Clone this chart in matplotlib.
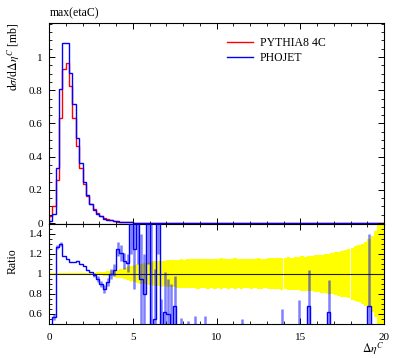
import numpy as np
import matplotlib
matplotlib.use("Agg")
import matplotlib.pyplot as plt
from matplotlib.ticker import MultipleLocator, FuncFormatter

plt.rcParams['font.family'] = ['Liberation Serif', 'DejaVu Serif']
plt.rcParams['mathtext.fontset'] = 'stix'

# ---------------- data ----------------
title = "max(etaC)"
series_names = ["PYTHIA8 4C", "PHOJET"]
bin_edges = np.linspace(0, 20, 101)   # 100 bins of width 0.2

pythia = [
    0.045, 0.100, 0.260, 0.630, 0.927, 0.967, 0.825, 0.635, 0.465, 0.330,
    0.235, 0.165, 0.115, 0.083, 0.060, 0.044, 0.031, 0.022, 0.016, 0.012,
    0.009, 0.007, 0.0055, 0.0042, 0.0033, 0.0026, 0.0020, 0.0016, 0.0012, 0.0010,
    0.0008, 0.00065, 0.0005, 0.0004, 0.00035, 0.0003, 0.00025, 0.0002, 0.00018, 0.00015,
    0.00013, 0.00012, 0.0001, 0.0001, 0.00009, 0.00008, 0.00008, 0.00007, 0.00006, 0.00006,
    0.00005, 0.00005, 0.00005, 0.00004, 0.00004, 0.00004, 0.00004, 0.00003, 0.00003, 0.00003,
    0.00003, 0.00003, 0.00003, 0.00002, 0.00002, 0.00002, 0.00002, 0.00002, 0.00002, 0.00002,
    0.00002, 0.00002, 0.00002, 0.00002, 0.00002, 0.00001, 0.00001, 0.00001, 0.00001, 0.00001,
    0.00001, 0.00001, 0.00001, 0.00001, 0.00001, 0.00001, 0.00001, 0.00001, 0.00001, 0.00001,
    0.00001, 0.00001, 0.00001, 0.00001, 0.00001, 0.00001, 0.00001, 0.00001, 0.00001, 0.00001,
]
phojet = [
    0.014, 0.057, 0.330, 0.810, 1.083, 1.083, 0.905, 0.715, 0.515, 0.360,
    0.250, 0.170, 0.115, 0.080, 0.056, 0.040, 0.027, 0.020, 0.016, 0.0125,
    0.011, 0.0085, 0.006, 0.0046, 0.005, 0.003, 0.003, 0.0015, 0.0010, 0.0017,
    0.0, 0.0004, 0.001, 0.0, 0.0002, 0.0002, 0.0, 0.00014, 0.0, 0.0,
    0.0, 0.0, 0.0, 0.0, 0.0, 0.0, 0.0, 0.0, 0.0, 0.0,
    0.0, 0.0, 0.0, 0.0, 0.0, 0.0, 0.0, 0.0, 0.0, 0.0,
    0.0, 0.0, 0.0, 0.0, 0.0, 0.0, 0.0, 0.0, 0.0, 0.0,
    0.0, 0.0, 0.0, 0.0, 0.0, 0.0, 0.0, 0.00001, 0.0, 0.0,
    0.0, 0.0, 0.0, 0.00001, 0.0, 0.0, 0.0, 0.0, 0.0, 0.0,
    0.0, 0.0, 0.0, 0.0, 0.0, 0.00001, 0.0, 0.0, 0.0, 0.0,
]

# ratio PHOJET / PYTHIA8
ratio = [
    0.31, 0.57, 1.27, 1.30, 1.18, 1.15, 1.12, 1.12, 1.13, 1.10,
    1.08, 1.04, 1.02, 0.99, 0.95, 0.90, 0.85, 0.92, 1.00, 1.04,
    1.25, 1.21, 1.13, 1.11, 1.70, 1.25, 1.60, 0.95, 0.80, 1.70,
    0.0, 0.55, 2.00, 0.0, 0.62, 0.60, 0.0, 0.68, 0.0, 0.0,
    0.0, 0.0, 0.0, 0.0, 0.0, 0.0, 0.0, 0.0, 0.0, 0.0,
    0.0, 0.0, 0.0, 0.0, 0.0, 0.0, 0.0, 0.0, 0.0, 0.0,
    0.0, 0.0, 0.0, 0.0, 0.0, 0.0, 0.0, 0.0, 0.0, 0.0,
    0.0, 0.0, 0.0, 0.0, 0.0, 0.0, 0.0, 0.68, 0.0, 0.0,
    0.0, 0.0, 0.0, 0.62, 0.0, 0.0, 0.0, 0.0, 0.0, 0.0,
    0.0, 0.0, 0.0, 0.0, 0.0, 0.68, 0.0, 0.0, 0.0, 0.0,
]
# ratio error bars: bin index, lower error, upper error
ratio_err_bins = [0, 1, 2, 3, 13, 14, 15, 16, 17, 18, 19, 20, 21, 22, 23,
                  24, 25, 26, 27, 28, 29, 30, 31, 32, 33, 34, 35, 36, 37,
                  39, 41, 43, 46, 57, 69, 74, 77, 83, 95]
ratio_err_lo = [0.02, 0.03, 0.02, 0.02, 0.02, 0.03, 0.03, 0.04, 0.04, 0.05, 0.06, 0.07, 0.08, 0.08, 0.09,
                0.5, 0.4, 0.5, 0.45, 0.4, 0.6, 0.0, 0.55, 0.8, 0.0, 0.62, 0.6, 0.0, 0.68,
                0.0, 0.0, 0.0, 0.0, 0.0, 0.0, 0.0, 0.68, 0.62, 0.68]
ratio_err_hi = [0.02, 0.03, 0.02, 0.02, 0.02, 0.03, 0.03, 0.04, 0.04, 0.05, 0.06, 0.07, 0.08, 0.08, 0.09,
                0.5, 0.4, 0.5, 0.45, 0.4, 0.6, 1.6, 0.5, 0.8, 0.75, 0.4, 0.35, 0.9, 0.3,
                0.56, 0.53, 0.58, 0.58, 0.55, 0.65, 0.74, 0.36, 0.32, 0.72]

# relative uncertainty of PYTHIA8 (yellow band half width)
band = [
    0.004, 0.004, 0.004, 0.004, 0.004, 0.004, 0.004, 0.004, 0.005, 0.005,
    0.006, 0.007, 0.008, 0.010, 0.013, 0.016, 0.020, 0.024, 0.028, 0.033,
    0.040, 0.048, 0.056, 0.066, 0.076, 0.088, 0.095, 0.100, 0.108, 0.112,
    0.118, 0.122, 0.126, 0.130, 0.128, 0.134, 0.138, 0.135, 0.140, 0.143,
    0.140, 0.145, 0.142, 0.146, 0.150, 0.144, 0.148, 0.150, 0.146, 0.150,
    0.148, 0.152, 0.146, 0.150, 0.148, 0.152, 0.145, 0.150, 0.148, 0.146,
    0.150, 0.147, 0.152, 0.150, 0.148, 0.155, 0.152, 0.158, 0.154, 0.160,
    0.158, 0.162, 0.160, 0.165, 0.168, 0.172, 0.170, 0.175, 0.178, 0.182,
    0.185, 0.190, 0.195, 0.200, 0.205, 0.212, 0.220, 0.230, 0.238, 0.248,
    0.260, 0.272, 0.285, 0.300, 0.320, 0.345, 0.380, 0.430, 0.550, 0.800,
]
main_yticks = [0, 0.2, 0.4, 0.6, 0.8, 1.0]
ratio_yticks = [0.6, 0.8, 1.0, 1.2, 1.4]
xticks = [0, 5, 10, 15, 20]

# ---------------- figure ----------------
W, H = 397, 358
fig = plt.figure(figsize=(W / 100, H / 100), dpi=100)
L, R = 49 / W, 384 / W
top_main, bot_main = 1 - 23 / H, 1 - 223.7 / H
bot_ratio = 1 - 323.5 / H
ax = fig.add_axes([L, bot_main, R - L, top_main - bot_main])
ax2 = fig.add_axes([L, bot_ratio, R - L, bot_main - bot_ratio])

red, blue = '#ff0000', '#0000ff'
ax.stairs(pythia, bin_edges, color=red, lw=1.0, label=series_names[0])
ax.stairs(phojet, bin_edges, color=blue, lw=1.0, label=series_names[1])
ax.set_xlim(0, 20)
ax.set_ylim(-0.004, 1.205)

centers = 0.5 * (bin_edges[:-1] + bin_edges[1:])
b = np.array(band)
ax2.bar(centers, 2 * b, bottom=1 - b, width=0.2, color='#ffff00', lw=0, zorder=1)
ax2.axhline(1.0, color='#222200', lw=0.8, zorder=2)
r = np.array(ratio)
idx = np.array(ratio_err_bins)
ax2.vlines(centers[idx], r[idx] - np.array(ratio_err_lo), r[idx] + np.array(ratio_err_hi),
           color=blue, alpha=0.5, lw=1.8, zorder=3)
ax2.stairs(ratio, bin_edges, color=blue, lw=1.0, zorder=4, baseline=None)
ax2.set_xlim(0, 20)
ax2.set_ylim(0.5, 1.5)

fmt = FuncFormatter(lambda v, p: f'{v:g}')
for a in (ax, ax2):
    a.tick_params(which='both', direction='in', top=True, right=True, labelsize=8)
    a.tick_params(which='major', length=4.2, width=0.7)
    a.tick_params(which='minor', length=2.4, width=0.6)
    a.tick_params(axis='y', pad=4.5)
    a.set_xticks(xticks)
    a.xaxis.set_minor_locator(MultipleLocator(1))
    a.yaxis.set_minor_locator(MultipleLocator(0.05))
    a.yaxis.set_major_formatter(fmt)
    for s in a.spines.values():
        s.set_linewidth(0.8)
ax.set_yticks(main_yticks)
ax2.set_yticks(ratio_yticks)
ax.tick_params(axis='x', labelbottom=False)
ax2.tick_params(axis='x', pad=7)

ax.set_ylabel(r'$\mathrm{d}\sigma/\mathrm{d}\Delta\eta^{C}$ [mb]', loc='top', fontsize=8.5)
ax.yaxis.set_label_coords(-0.084, 1.0)
ax2.set_ylabel('Ratio', fontsize=8.5)
ax2.yaxis.set_label_coords(-0.09, 0.63)
ax2.set_xlabel(r'$\Delta\eta^{C}$', loc='right', fontsize=8.5)
ax2.xaxis.set_label_coords(1.0, -0.17)

fig.text(L + 1 / W, 1 - 16 / H, title, fontsize=8.5, ha='left', va='baseline')

leg = ax.legend(loc='upper left', bbox_to_anchor=(0.531, 0.93), frameon=False,
                fontsize=8.5, handlelength=2.2, handletextpad=0.6,
                labelspacing=0.25, borderpad=0, borderaxespad=0)

fig.savefig('out.png', dpi=100)
